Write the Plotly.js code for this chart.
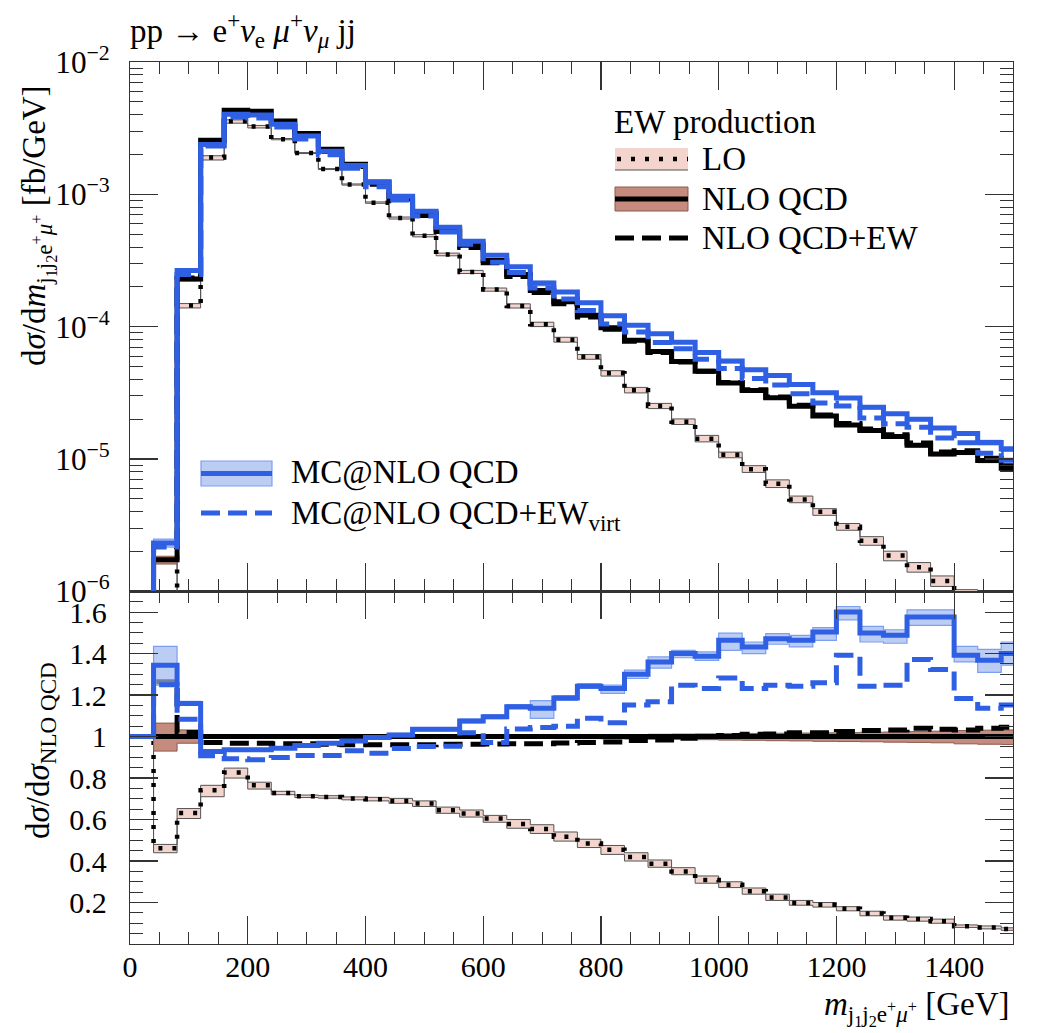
<!DOCTYPE html>
<html><head><meta charset="utf-8">
<script src="https://cdn.plot.ly/plotly-3.0.1.min.js"></script>
<style>html,body{margin:0;padding:0;background:#fff}</style>
</head><body>
<div id="chart" style="width:1046px;height:1033px"></div>
<script>
// bin edges in GeV (38 bins)
const binEdges = [0,40,80,120,160,200,240,280,320,360,400,440,480,520,560,600,640,680,720,760,800,840,880,920,960,1000,1040,1080,1120,1160,1200,1240,1280,1320,1360,1400,1440,1480,1520];

// NLO QCD absolute cross section, fb/GeV
const nloQCD = [0,1.73e-6,2.29e-4,2.56e-3,4.31e-3,4.25e-3,3.59e-3,2.88e-3,2.19e-3,1.69e-3,1.24e-3,9.6e-4,7.2e-4,5.45e-4,4.12e-4,3.16e-4,2.48e-4,1.88e-4,1.54e-4,1.22e-4,9.8e-5,7.9e-5,6.5e-5,5.46e-5,4.6e-5,3.76e-5,3.3e-5,2.9e-5,2.5e-5,2.11e-5,1.81e-5,1.64e-5,1.48e-5,1.27e-5,1.09e-5,1.12e-5,9.75e-6,8.5e-6];

// ratios to NLO QCD
const ratioNLO   = [1,1,1,1,1,1,1,1,1,1,1,1,1,1,1,1,1,1,1,1,1,1,1,1,1,1,1,1,1,1,1,1,1,1,1,1,1,1];
const ratioNLOlo = [1,0.93,0.968,0.995,0.995,0.996,0.996,0.996,0.996,0.995,0.995,0.994,0.994,0.993,0.993,0.992,0.992,0.991,0.99,0.99,0.989,0.988,0.987,0.986,0.985,0.983,0.982,0.98,0.979,0.977,0.976,0.975,0.973,0.972,0.97,0.965,0.963,0.962];
const ratioNLOhi = [1,1.065,1.032,1.005,1.005,1.004,1.004,1.004,1.004,1.005,1.005,1.005,1.005,1.006,1.006,1.006,1.007,1.007,1.008,1.008,1.009,1.01,1.011,1.012,1.013,1.014,1.015,1.016,1.017,1.018,1.019,1.021,1.022,1.024,1.026,1.029,1.031,1.032];
const ratioNLOEW = [1,1.264,1.02,0.971,0.968,0.968,0.965,0.965,0.963,0.96,0.96,0.96,0.96,0.963,0.963,0.964,0.965,0.966,0.969,0.971,0.974,0.981,0.984,0.992,1.0,1.005,1.011,1.013,1.019,1.019,1.024,1.029,1.032,1.04,1.035,1.032,1.04,1.045];
const ratioLO    = [1,0.462,0.632,0.741,0.827,0.765,0.728,0.712,0.709,0.702,0.698,0.69,0.677,0.645,0.629,0.605,0.578,0.554,0.517,0.485,0.454,0.419,0.387,0.35,0.309,0.286,0.254,0.224,0.198,0.189,0.17,0.147,0.126,0.12,0.11,0.086,0.08,0.072];
const ratioLOlo  = [1,0.44,0.605,0.71,0.80,0.747,0.72,0.706,0.703,0.695,0.69,0.678,0.663,0.63,0.612,0.587,0.558,0.533,0.496,0.465,0.432,0.40,0.37,0.334,0.293,0.272,0.24,0.21,0.187,0.178,0.16,0.136,0.115,0.11,0.1,0.08,0.073,0.066];
const ratioLOhi  = [1,0.48,0.653,0.765,0.848,0.78,0.736,0.718,0.715,0.709,0.707,0.702,0.69,0.66,0.646,0.62,0.6,0.575,0.54,0.505,0.475,0.44,0.405,0.368,0.328,0.30,0.27,0.24,0.21,0.2,0.18,0.158,0.136,0.13,0.12,0.092,0.087,0.078];
const ratioMC    = [1,1.344,1.16,0.928,0.936,0.936,0.944,0.957,0.968,0.979,0.995,1.008,1.035,1.035,1.075,1.096,1.144,1.136,1.186,1.243,1.232,1.30,1.36,1.40,1.387,1.464,1.432,1.472,1.464,1.504,1.60,1.499,1.488,1.576,1.576,1.392,1.368,1.40];
const ratioMClo  = [1,1.248,1.15,0.92,0.93,0.93,0.938,0.95,0.962,0.972,0.988,1.0,1.027,1.027,1.066,1.087,1.134,1.088,1.175,1.232,1.208,1.28,1.33,1.38,1.367,1.416,1.40,1.445,1.432,1.464,1.563,1.456,1.45,1.536,1.536,1.36,1.31,1.344];
const ratioMChi  = [1,1.435,1.17,0.936,0.942,0.942,0.95,0.964,0.974,0.986,1.002,1.016,1.043,1.043,1.084,1.105,1.154,1.173,1.197,1.256,1.248,1.32,1.384,1.416,1.408,1.499,1.456,1.496,1.488,1.525,1.627,1.531,1.515,1.611,1.611,1.435,1.42,1.456];
const ratioMCEW  = [1,1.25,1.083,0.907,0.893,0.888,0.899,0.909,0.909,0.932,0.92,0.942,0.952,0.953,1.019,0.972,1.036,1.044,1.05,1.088,1.067,1.152,1.168,1.248,1.232,1.283,1.232,1.248,1.243,1.259,1.392,1.243,1.248,1.371,1.323,1.184,1.136,1.152];

const xTickVals = [0,200,400,600,800,1000,1200,1400];
const rTickVals = [0.2,0.4,0.6,0.8,1,1.2,1.4,1.6];
const rTickText = ["0.2","0.4","0.6","0.8","1","1.2","1.4","1.6"];

const FONT = "Liberation Serif, DejaVu Serif, serif";
const BLUE = "#2f5fe3";
const FLOOR = 1e-9; // empty bins drawn below the log axis

function stepY(v){ return v.concat([v[v.length-1]]); }
function absVals(r){ return nloQCD.map((v,i)=> v>0 ? v*r[i] : FLOOR); }

function panelTraces(xa, ya, conv){
  const t = [];
  const base = {x: binEdges, xaxis: xa, yaxis: ya, mode:'lines', hoverinfo:'skip', showlegend:false};
  const L = (r, line, extra) => Object.assign({}, base, {y: stepY(conv(r)), line: Object.assign({shape:'hv'}, line)}, extra||{});
  t.push(L(ratioLOlo, {color:'#555', width:1}));
  t.push(L(ratioLOhi, {color:'#555', width:1}, {fill:'tonexty', fillcolor:'#f3d5cd'}));
  t.push(L(ratioLO, {color:'#000', width:4.5, dash:'4px,10px'}));
  t.push(L(ratioNLOlo, {color:'#8a5a50', width:1}));
  t.push(L(ratioNLOhi, {color:'#8a5a50', width:1}, {fill:'tonexty', fillcolor:'#c48b7e'}));
  t.push(L(ratioNLO, {color:'#000', width:5}));
  t.push(L(ratioNLOEW, {color:'#000', width:5, dash:'19px,8px'}));
  t.push(L(ratioMClo, {color:'#7d9ff0', width:1.2}));
  t.push(L(ratioMChi, {color:'#7d9ff0', width:1.2}, {fill:'tonexty', fillcolor:'rgba(160,184,240,0.7)'}));
  t.push(L(ratioMC, {color:BLUE, width:5}));
  t.push(L(ratioMCEW, {color:BLUE, width:5, dash:'19px,8px'}));
  return t;
}

const data = panelTraces('x2','y2', absVals).concat(panelTraces('x','y', r=>r));

const tickCommon = {
  ticks:'inside', ticklen:28, tickwidth:1.2, tickcolor:'#333',
  showline:true, linecolor:'#333', linewidth:1.2, mirror:'ticks',
  showgrid:false, zeroline:false,
  tickfont:{family:FONT, size:30, color:'#000'}
};

const PX = p => (p-130)/883;
const PY = p => (944-p)/882;

const shapes = [
  {type:'rect', xref:'paper', yref:'paper', x0:PX(615), x1:PX(688), y0:PY(170), y1:PY(148), fillcolor:'#f3d5cd', line:{width:0}},
  {type:'line', xref:'paper', yref:'paper', x0:PX(615), x1:PX(688), y0:PY(170), y1:PY(170), line:{color:'#555', width:1.2}},
  {type:'line', xref:'paper', yref:'paper', x0:PX(617), x1:PX(688), y0:PY(159), y1:PY(159), line:{color:'#000', width:4.5, dash:'4px,10px'}},
  {type:'rect', xref:'paper', yref:'paper', x0:PX(615), x1:PX(688), y0:PY(211), y1:PY(187), fillcolor:'#c48b7e', line:{color:'#8a5a50', width:1}},
  {type:'line', xref:'paper', yref:'paper', x0:PX(615), x1:PX(688), y0:PY(199), y1:PY(199), line:{color:'#000', width:5}},
  {type:'line', xref:'paper', yref:'paper', x0:PX(615), x1:PX(688), y0:PY(238), y1:PY(238), line:{color:'#000', width:5, dash:'19px,8px'}},
  {type:'rect', xref:'paper', yref:'paper', x0:PX(201), x1:PX(272), y0:PY(486), y1:PY(461), fillcolor:'rgba(160,184,240,0.7)', line:{color:'#7d9ff0', width:1.2}},
  {type:'line', xref:'paper', yref:'paper', x0:PX(201), x1:PX(272), y0:PY(473.5), y1:PY(473.5), line:{color:BLUE, width:5}},
  {type:'line', xref:'paper', yref:'paper', x0:PX(201), x1:PX(272), y0:PY(513), y1:PY(513), line:{color:BLUE, width:5, dash:'19px,8px'}}
];

const af = {family:FONT, size:33, color:'#000'};
const ann = (text, x, y, extra) => Object.assign({text, xref:'paper', yref:'paper', x:PX(x), y:PY(y), xanchor:'left', yanchor:'middle', showarrow:false, font:af}, extra||{});
const annotations = [
  ann('EW production', 612, 122),
  ann('LO', 700, 159),
  ann('NLO QCD', 700, 199),
  ann('NLO QCD+EW', 700, 238),
  ann('MC@NLO QCD', 289, 473),
  ann('MC@NLO QCD+EW<sub>virt</sub>', 289, 515),
  ann('d<i>σ</i>/d<i>m</i><sub>j<sub>1</sub>j<sub>2</sub>e<sup>+</sup><i>μ</i><sup>+</sup></sub> [fb/GeV]', 38, 226, {textangle:-90, xanchor:'center'}),
  ann('d<i>σ</i>/d<i>σ</i><sub>NLO QCD</sub>', 40, 751, {textangle:-90, xanchor:'center'}),
  ann('<i>m</i><sub>j<sub>1</sub>j<sub>2</sub>e<sup>+</sup><i>μ</i><sup>+</sup></sub> [GeV]', 1012, 1008, {xanchor:'right'})
];

const layout = {
  width:1046, height:1033,
  margin:{l:130, r:33, t:62, b:89},
  paper_bgcolor:'#fff', plot_bgcolor:'#fff',
  font:{family:FONT, color:'#000'},
  showlegend:false,
  title:{text:'pp → e<sup>+</sup><i>ν</i><sub>e</sub> <i>μ</i><sup>+</sup><i>ν</i><sub><i>μ</i></sub> jj',
         x:130/1046, xanchor:'left', y:1-30/1033, yanchor:'middle', xref:'container', yref:'container',
         font:{family:FONT, size:33, color:'#000'}},
  xaxis: Object.assign({}, tickCommon, {domain:[0,1], anchor:'y', range:[0,1500], tickvals:xTickVals, ticklabelstandoff:-4,
         minor:{ticks:'inside', ticklen:12, dtick:50, tick0:0, tickcolor:'#333', tickwidth:1}}),
  xaxis2: Object.assign({}, tickCommon, {domain:[0,1], anchor:'y2', matches:'x', range:[0,1500], tickvals:xTickVals, showticklabels:false,
         minor:{ticks:'inside', ticklen:12, dtick:50, tick0:0, tickcolor:'#333', tickwidth:1}}),
  yaxis: Object.assign({}, tickCommon, {domain:[0,0.3998], anchor:'x', range:[0,1.7], tickvals:rTickVals, ticktext:rTickText, ticklabelstandoff:16,
         minor:{ticks:'inside', ticklen:13, dtick:0.05, tick0:0, tickcolor:'#333', tickwidth:1}}),
  yaxis2: Object.assign({}, tickCommon, {domain:[0.3998,1], anchor:'x2', type:'log', range:[-6,-2], dtick:1, exponentformat:'power', showexponent:'all', ticklabelstandoff:14,
         tickfont:{family:FONT, size:25, color:'#000'},
         minor:{ticks:'inside', ticklen:13, dtick:'D1', tickcolor:'#333', tickwidth:1}}),
  shapes, annotations
};

Plotly.newPlot('chart', data, layout, {staticPlot:true, displayModeBar:false});
</script>
</body></html>
